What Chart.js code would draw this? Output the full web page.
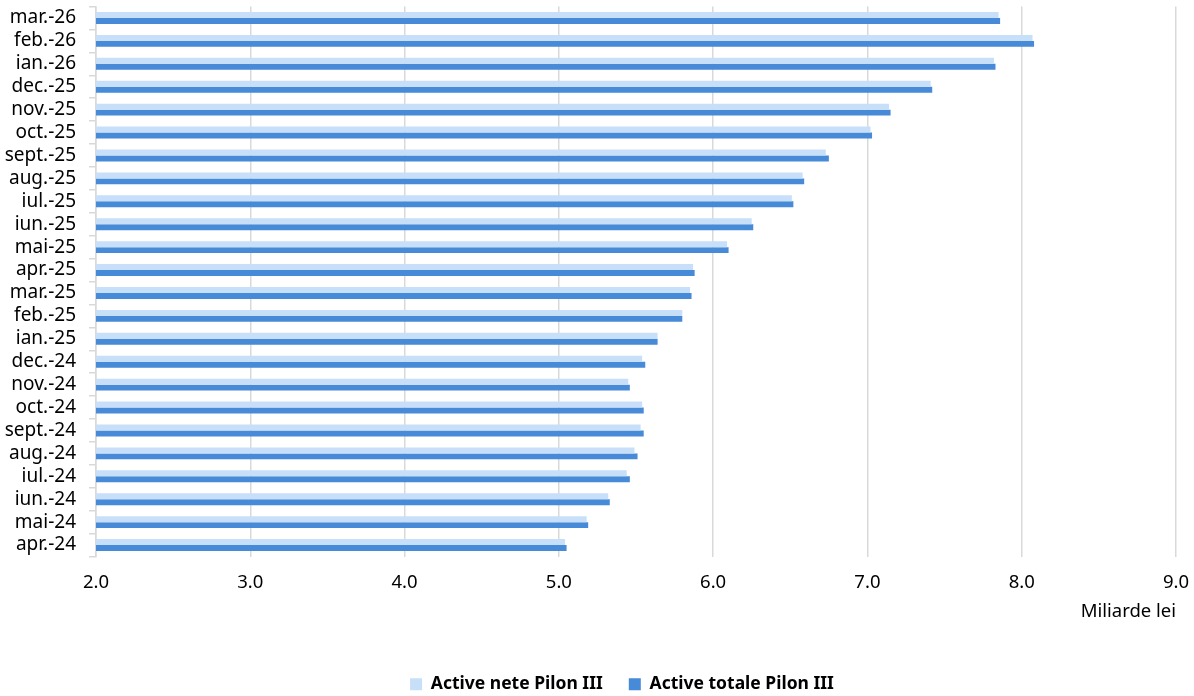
<!DOCTYPE html>
<html>
<head>
<meta charset="utf-8">
<script src="https://cdn.jsdelivr.net/npm/chart.js@4/dist/chart.umd.min.js"></script>
<style>
  html, body { margin: 0; padding: 0; background: #fff; }
  #pilonChart { display: block; }
</style>
</head>
<body>
<canvas id="pilonChart" width="1194" height="696"></canvas>
<script>
// luni, in ordine cronologica (apr.-24 -> mar.-26)
const months = [
  "apr.-24", "mai-24", "iun.-24", "iul.-24", "aug.-24", "sept.-24",
  "oct.-24", "nov.-24", "dec.-24", "ian.-25", "feb.-25", "mar.-25",
  "apr.-25", "mai-25", "iun.-25", "iul.-25", "aug.-25", "sept.-25",
  "oct.-25", "nov.-25", "dec.-25", "ian.-26", "feb.-26", "mar.-26"
];

// miliarde lei
const activeNete = [
  5.04, 5.18, 5.32, 5.44, 5.49, 5.53,
  5.54, 5.45, 5.54, 5.64, 5.80, 5.85,
  5.87, 6.09, 6.25, 6.51, 6.58, 6.73,
  7.02, 7.14, 7.41, 7.82, 8.07, 7.85
];
const activeTotale = [
  5.05, 5.19, 5.33, 5.46, 5.51, 5.55,
  5.55, 5.46, 5.56, 5.64, 5.80, 5.86,
  5.88, 6.10, 6.26, 6.52, 6.59, 6.75,
  7.03, 7.15, 7.42, 7.83, 8.08, 7.86
];

const xTicks = [2, 3, 4, 5, 6, 7, 8, 9];

const FONT = "'Noto Sans', 'DejaVu Sans', sans-serif";
const GRID = "#d9d9d9";

// luna cea mai recenta sus
const labels = months.slice().reverse();

// legenda e putin la stanga fata de centrul zonei graficului
const legendShift = {
  id: "legendShift",
  afterLayout(chart) {
    if (!chart.legend) return;
    chart.legend.left -= 14;
    chart.legend.right -= 14;
  }
};

const ctx = document.getElementById("pilonChart").getContext("2d");

new Chart(ctx, {
  type: "bar",
  data: {
    labels: labels,
    datasets: [
      {
        label: "Active nete Pilon III",
        data: activeNete.slice().reverse(),
        backgroundColor: "#c7dff8",
        borderWidth: 0
      },
      {
        label: "Active totale Pilon III",
        data: activeTotale.slice().reverse(),
        backgroundColor: "#468ad8",
        borderWidth: 0
      }
    ]
  },
  plugins: [legendShift],
  options: {
    indexAxis: "y",
    responsive: false,
    animation: false,
    categoryPercentage: 0.52,
    barPercentage: 1.0,
    layout: {
      padding: { left: 0, right: 18, top: 6.5, bottom: -7 }
    },
    plugins: {
      tooltip: { enabled: false },
      legend: {
        position: "bottom",
        align: "center",
        fullSize: false,
        labels: {
          boxWidth: 12,
          boxHeight: 12,
          padding: 26,
          color: "#000",
          font: { family: FONT, size: 17.5, weight: "bold" }
        }
      }
    },
    scales: {
      x: {
        type: "linear",
        min: xTicks[0],
        max: xTicks[xTicks.length - 1],
        afterBuildTicks: (scale) => {
          scale.ticks = xTicks.map(v => ({ value: v }));
        },
        afterFit: (scale) => {
          scale.height = 93;
          scale.paddingLeft = 0;
          scale.paddingRight = 0;
        },
        border: { display: false },
        grid: {
          color: GRID,
          lineWidth: 1.5,
          drawTicks: false
        },
        ticks: {
          padding: 15.5,
          color: "#000",
          font: { family: FONT, size: 18.5 },
          callback: (v) => Number(v).toFixed(1)
        },
        title: {
          display: true,
          text: "Miliarde lei",
          align: "end",
          color: "#000",
          font: { family: FONT, size: 18.5 },
          padding: { top: 0, bottom: 26.5 }
        }
      },
      y: {
        afterFit: (scale) => {
          scale.width = 96;
          scale.paddingTop = 0;
          scale.paddingBottom = 0;
        },
        border: { display: true, color: GRID, width: 1.5 },
        grid: {
          drawOnChartArea: false,
          drawTicks: true,
          tickLength: 7,
          color: GRID,
          lineWidth: 1.5
        },
        ticks: {
          autoSkip: false,
          padding: 13,
          color: "#000",
          font: { family: FONT, size: 19 }
        }
      }
    }
  }
});
</script>
</body>
</html>
